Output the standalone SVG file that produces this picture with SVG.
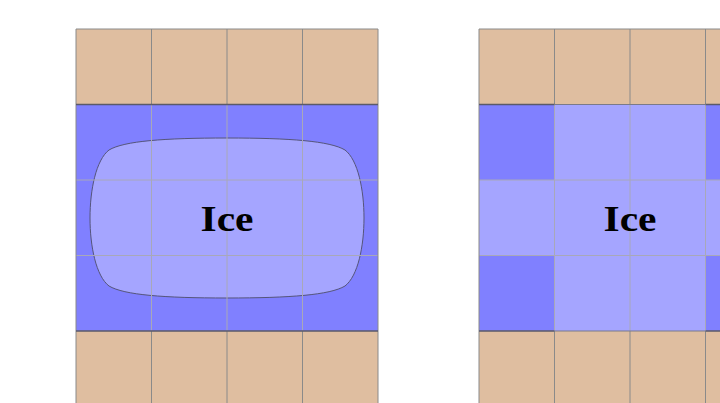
<svg xmlns="http://www.w3.org/2000/svg" width="720" height="403" viewBox="0 0 720 403">
<style>
.tan{fill:#dfbea0}
.blue{fill:#8080ff}
.ice{fill:#a5a5ff}
.g{stroke:#8a8a8a;stroke-width:1;fill:none}
.gl{stroke:#a8a8b8;stroke-width:1;fill:none}
.sep{stroke:#5a5a6a;stroke-width:1.6;fill:none}
.lbl{font-family:"Liberation Serif",serif;font-weight:bold;font-size:35px;fill:#000}
</style>
<rect width="720" height="403" fill="#fff"/>
<g id="left-panel">
<rect class="tan" x="76" y="29" width="302" height="76"/>
<rect class="tan" x="76" y="331" width="302" height="80"/>
<rect class="blue" x="76" y="105" width="302" height="226"/>
<path d="M 227,138 C 290,138 330,141 345,150 C 358,160 364,190 364,218 C 364,246 358,276 345,286 C 330,295 290,298 227,298 C 164,298 124,295 109,286 C 96,276 90,246 90,218 C 90,190 96,160 109,150 C 124,141 164,138 227,138 Z" fill="#a5a5ff" stroke="#55557a" stroke-width="1"/>
<path class="gl" d="M151.5,105V331M227,105V331M302.5,105V331M76,180H378M76,255.5H378"/>
<path class="g" d="M151.5,29V105M227,29V105M302.5,29V105M151.5,331V403M227,331V403M302.5,331V403"/>
<path class="g" d="M76,29H378M76,29V403M378,29V403"/>
<path class="sep" d="M76,104.5H378M76,331H378"/>
<text class="lbl" x="227" y="231" text-anchor="middle" textLength="53" lengthAdjust="spacingAndGlyphs">Ice</text>
</g>
<g id="right-panel">
<rect class="tan" x="479" y="29" width="241" height="76"/>
<rect class="tan" x="479" y="331" width="241" height="80"/>
<rect class="ice" x="479" y="105" width="241" height="226"/>
<rect class="blue" x="479" y="105" width="75.5" height="75"/>
<rect class="blue" x="479" y="255.5" width="75.5" height="75.5"/>
<rect class="blue" x="705.5" y="105" width="20" height="75"/>
<rect class="blue" x="705.5" y="255.5" width="20" height="75.5"/>
<path class="gl" d="M554.5,105V331M630,105V331M705.5,105V331M479,180H720M479,255.5H720"/>
<path class="g" d="M554.5,29V105M630,29V105M705.5,29V105M554.5,331V403M630,331V403M705.5,331V403"/>
<path class="g" d="M479,29H720M479,29V403"/>
<path class="sep" d="M479,104.5H554.5M705.5,104.5H720M479,331H554.5M705.5,331H720"/>
<path d="M554.5,104.5H705.5M554.5,331H705.5" stroke="#7a7a8a" stroke-width="1.2" fill="none"/>
<text class="lbl" x="630" y="231" text-anchor="middle" textLength="53" lengthAdjust="spacingAndGlyphs">Ice</text>
</g>
</svg>
